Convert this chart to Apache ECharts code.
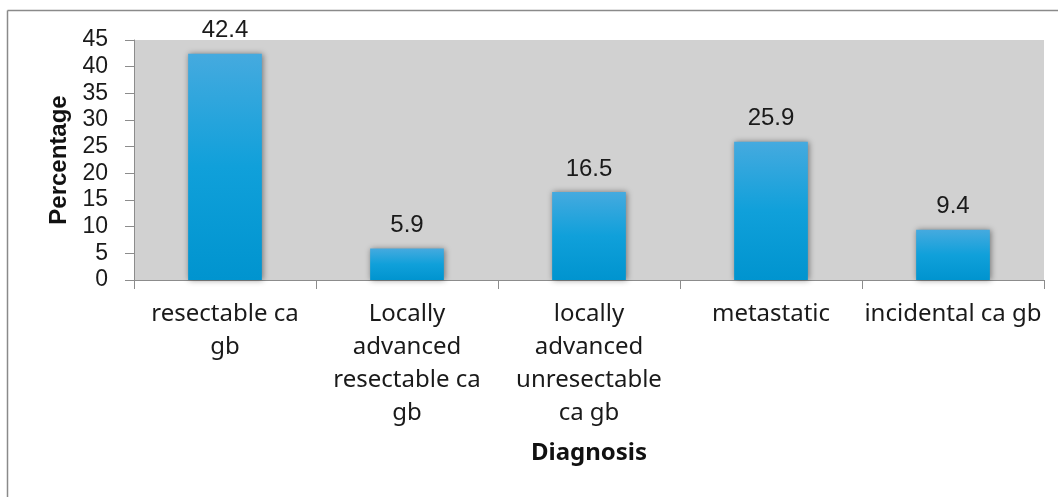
<!DOCTYPE html>
<html>
<head>
<meta charset="utf-8">
<script src="https://cdn.jsdelivr.net/npm/echarts@6/dist/echarts.min.js"></script>
<style>
  html, body { margin: 0; padding: 0; background: #ffffff; }
  #chart { width: 1058px; height: 497px; }
</style>
</head>
<body>
<div id="chart"></div>
<script>
// Diagnosis categories (line breaks as printed under each bar)
const categories = [
  'resectable ca\ngb',
  'Locally\nadvanced\nresectable ca\ngb',
  'locally\nadvanced\nunresectable\nca gb',
  'metastatic',
  'incidental ca gb'
];
// Share of patients per diagnosis, in percent
const percentages = [42.4, 5.9, 16.5, 25.9, 9.4];
// Value axis ticks
const yMin = 0;
const yMax = 45;
const yStep = 5;

const chart = echarts.init(document.getElementById('chart'), null, { renderer: 'canvas' });

const axisGray = '#8c8c8c';

chart.setOption({
  animation: false,
  backgroundColor: '#ffffff',
  graphic: [
    // outer frame: top and left edges
    { type: 'line', shape: { x1: 7.5, y1: 10.5, x2: 1058, y2: 10.5 }, style: { stroke: '#8a8a8a', lineWidth: 1.5 }, silent: true },
    { type: 'line', shape: { x1: 7.5, y1: 10.5, x2: 7.5, y2: 497 }, style: { stroke: '#8a8a8a', lineWidth: 1.5 }, silent: true }
  ],
  grid: {
    left: 134, top: 40, right: 14, bottom: 217,
    show: true, backgroundColor: '#d1d1d1', borderWidth: 0
  },
  xAxis: {
    type: 'category',
    data: categories,
    name: 'Diagnosis',
    nameLocation: 'middle',
    nameGap: 161,
    nameTextStyle: { fontFamily: 'Noto Sans', fontWeight: 'bold', fontSize: 24, color: '#111' },
    axisLine: { show: true, lineStyle: { color: axisGray, width: 1 } },
    axisTick: { show: true, alignWithLabel: false, length: 9, lineStyle: { color: axisGray } },
    axisLabel: {
      interval: 0, margin: 18,
      fontFamily: 'Noto Sans', fontSize: 24, lineHeight: 33, color: '#1a1a1a', align: 'center'
    },
    splitLine: { show: false }
  },
  yAxis: {
    type: 'value',
    min: yMin, max: yMax, interval: yStep,
    name: 'Percentage',
    nameLocation: 'middle',
    nameGap: 63,
    nameRotate: 90,
    nameTextStyle: { fontFamily: 'Liberation Sans', fontWeight: 'bold', fontSize: 24, color: '#111' },
    axisLine: { show: true, lineStyle: { color: axisGray, width: 1 } },
    axisTick: { show: true, length: 9, lineStyle: { color: axisGray } },
    axisLabel: { margin: 26, fontFamily: 'Liberation Sans', fontSize: 23, color: '#1a1a1a' },
    splitLine: { show: false }
  },
  series: [{
    type: 'bar',
    data: percentages,
    barWidth: '40.5%',
    itemStyle: {
      color: new echarts.graphic.LinearGradient(0, 0, 0, 1, [
        { offset: 0, color: '#45aadf' },
        { offset: 0.5, color: '#10a0da' },
        { offset: 1, color: '#0094cf' }
      ]),
      shadowColor: 'rgba(0,0,0,0.45)',
      shadowBlur: 6,
      shadowOffsetX: 1,
      shadowOffsetY: 0
    },
    label: {
      show: true, position: 'top', distance: 11,
      fontFamily: 'Liberation Sans', fontSize: 24, color: '#1a1a1a'
    }
  }]
});
</script>
</body>
</html>
